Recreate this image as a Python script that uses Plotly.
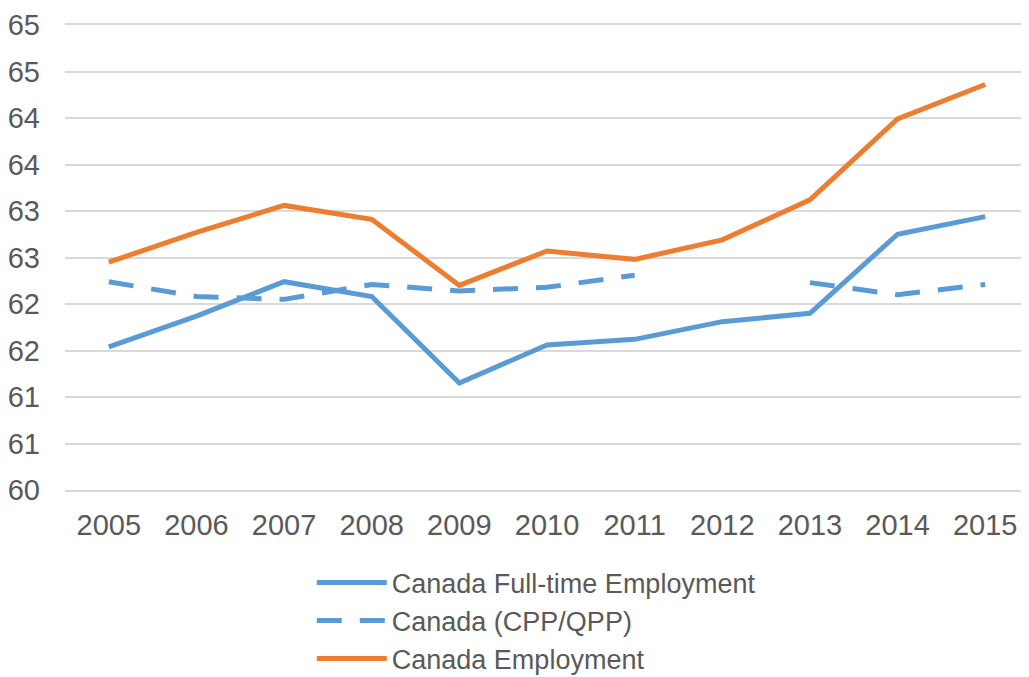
import plotly.graph_objects as go

years = ['2005', '2006', '2007', '2008', '2009', '2010', '2011', '2012', '2013', '2014', '2015']

full_time = [61.54, 61.87, 62.24, 62.08, 61.15, 61.56, 61.62, 61.81, 61.90, 62.75, 62.94]
cpp_qpp = [62.24, 62.08, 62.05, 62.21, 62.14, 62.18, 62.31, None, 62.23, 62.10, 62.21]
employment = [62.45, 62.77, 63.06, 62.91, 62.20, 62.57, 62.48, 62.69, 63.12, 63.99, 64.36]

y_ticks = [60, 60.5, 61, 61.5, 62, 62.5, 63, 63.5, 64, 64.5, 65]
y_labels = ['60', '61', '61', '62', '62', '63', '63', '64', '64', '65', '65']

blue = '#5B9BD5'
orange = '#ED7D31'
grey_text = '#595959'
grid = '#D9D9D9'

fig = go.Figure()
fig.add_trace(go.Scatter(x=years, y=full_time, mode='lines',
                         name='Canada Full-time Employment',
                         line=dict(color=blue, width=5)))
fig.add_trace(go.Scatter(x=years, y=cpp_qpp, mode='lines',
                         name='Canada (CPP/QPP)', connectgaps=False,
                         line=dict(color=blue, width=5, dash='25px,18px')))
fig.add_trace(go.Scatter(x=years, y=employment, mode='lines',
                         name='Canada Employment',
                         line=dict(color=orange, width=5)))

# page body has an 8px margin, so the figure is a bit smaller than the window
fig.update_layout(
    width=1021, height=669,
    margin=dict(l=57, r=0, t=17, b=187, autoexpand=False),
    paper_bgcolor='white', plot_bgcolor='white',
    font=dict(family='Liberation Sans, Arial', size=29, color=grey_text),
    xaxis=dict(type='category', range=[-0.5, 10.5], showgrid=False,
               showline=True, mirror=True, linecolor=grid, linewidth=1.5,
               ticks='', ticklabelstandoff=8, automargin=False),
    yaxis=dict(range=[60, 65], tickvals=y_ticks, ticktext=y_labels,
               showgrid=True, gridcolor=grid, gridwidth=1.5,
               zeroline=False, showline=False, ticks='',
               ticklabelstandoff=24, ticklabeloverflow='allow',
               automargin=False),
    legend=dict(orientation='v', x=0.256, xanchor='left', y=-0.147, yanchor='top',
                font=dict(size=27, color=grey_text), tracegroupgap=0,
                itemwidth=70, bgcolor='rgba(0,0,0,0)'),
    showlegend=True,
)

fig.write_html("out.html")
